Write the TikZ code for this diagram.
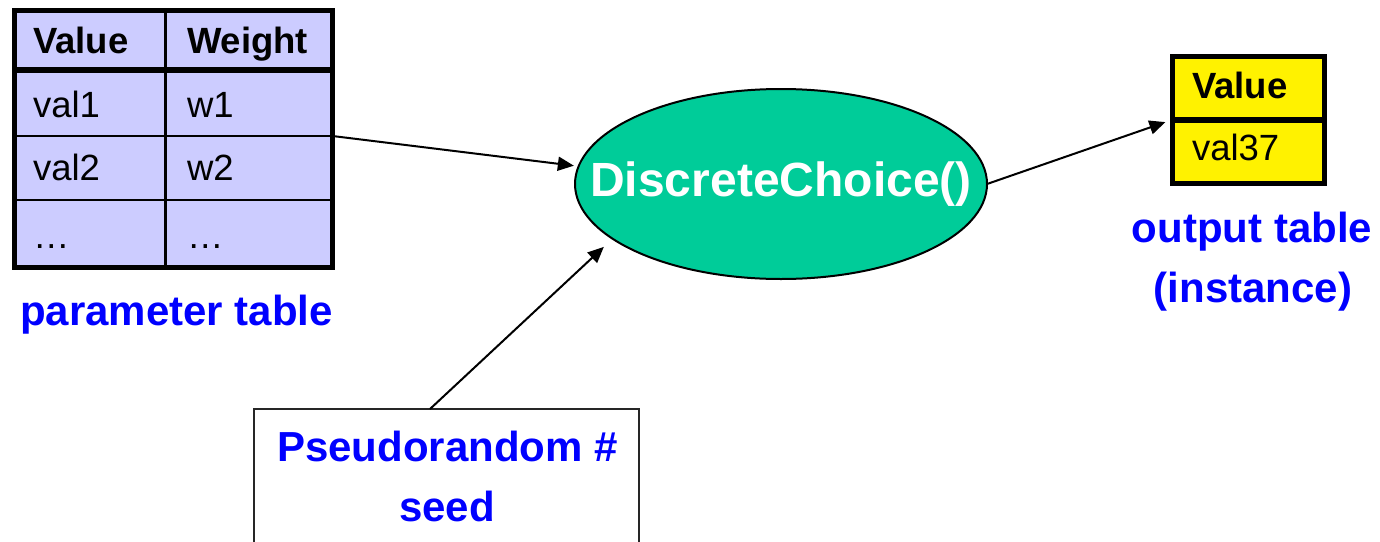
\documentclass[tikz,border=0pt]{standalone}
\usepackage{fontspec}
\setmainfont{Liberation Sans}
\usetikzlibrary{shapes.geometric,arrows.meta}
\definecolor{tablelilac}{RGB}{204,204,255}
\definecolor{choicegreen}{RGB}{0,204,153}
\definecolor{labelblue}{RGB}{0,0,255}
\begin{document}
\begin{tikzpicture}[x=1pt,y=-1pt,
  every node/.style={outer sep=0pt},
  cell/.style={anchor=base west, inner sep=0pt, font=\fontsize{36.5}{43}\selectfont},
  headcell/.style={cell, font=\fontsize{36.5}{43}\selectfont\bfseries},
  caption/.style={anchor=base, inner sep=0pt, text=labelblue, font=\fontsize{42}{50}\selectfont\bfseries},
  flow/.style={draw, line width=2pt, -{Triangle[length=16pt,width=14pt]}},
]
\useasboundingbox (0,0) rectangle (1380,541);

% parameter table
\node[draw, fill=tablelilac, line width=5pt, minimum width=318.5pt, minimum height=257pt, inner sep=0pt] (ptab) at (173.25,139) {};
\coordinate (colsep) at (165.5,0);
\coordinate (headsep) at (0,70);
\coordinate (rowsepA) at (0,135.8);
\coordinate (rowsepB) at (0,200.3);
\draw[line width=6pt] (ptab.west |- headsep) -- (ptab.east |- headsep);
\draw[line width=2.2pt] (ptab.west |- rowsepA) -- (ptab.east |- rowsepA);
\draw[line width=2.2pt] (ptab.west |- rowsepB) -- (ptab.east |- rowsepB);
\draw[line width=2.3pt] (ptab.north -| colsep) -- (ptab.south -| colsep);
\node[headcell] (hval) at (33,53) {Value};
\node[headcell] (hwt) at (187,53) {Weight};
\node[cell] (v1) at (33,117) {val1};
\node[cell] (w1) at (187,117) {w1};
\node[cell] (v2) at (33,180) {val2};
\node[cell] (w2) at (187,180) {w2};
\node[cell] (v3) at (33,248) {…};
\node[cell] (w3) at (187,248) {…};
\node[caption] (plabel) at (176.5,325) {parameter table};

% output table
\node[draw, fill=yellow, line width=5pt, minimum width=151.7pt, minimum height=127.3pt, inner sep=0pt] (otab) at (1248.35,119.65) {};
\draw[line width=6pt] (otab.west) -- (otab.east);
\node[headcell] (oval) at (1192,98) {Value};
\node[cell] (oinst) at (1192,160) {val37};
\node[caption] (olabelA) at (1252,242) {output table};
\node[caption] (olabelB) at (1253,302) {(instance)};

% the choice function
\node[ellipse, draw, line width=2pt, fill=choicegreen, minimum width=412pt, minimum height=190pt, inner sep=0pt,
  label={[text=white, font=\fontsize{48}{58}\selectfont\bfseries]center:DiscreteChoice()}] (dc) at (781,184) {};

% seed box
\node[draw=black!85, line width=2pt, minimum width=385.6pt, minimum height=200pt, inner sep=0pt, anchor=north] (seedbox) at (446.5,409) {};
\node[caption] (seedA) at (447.5,461) {Pseudorandom \#};
\node[caption] (seedB) at (447,521) {seed};

% connectors
\draw[flow, shorten >=4.8pt] ([yshift=3pt]ptab.east) -- (dc.175.7);
\draw[flow, shorten >=12pt] ([xshift=-16.5pt]seedbox.north) -- (dc.198.5);
\draw[flow, shorten >=7.5pt] (dc.east) -- (otab.west);
\end{tikzpicture}
\end{document}
